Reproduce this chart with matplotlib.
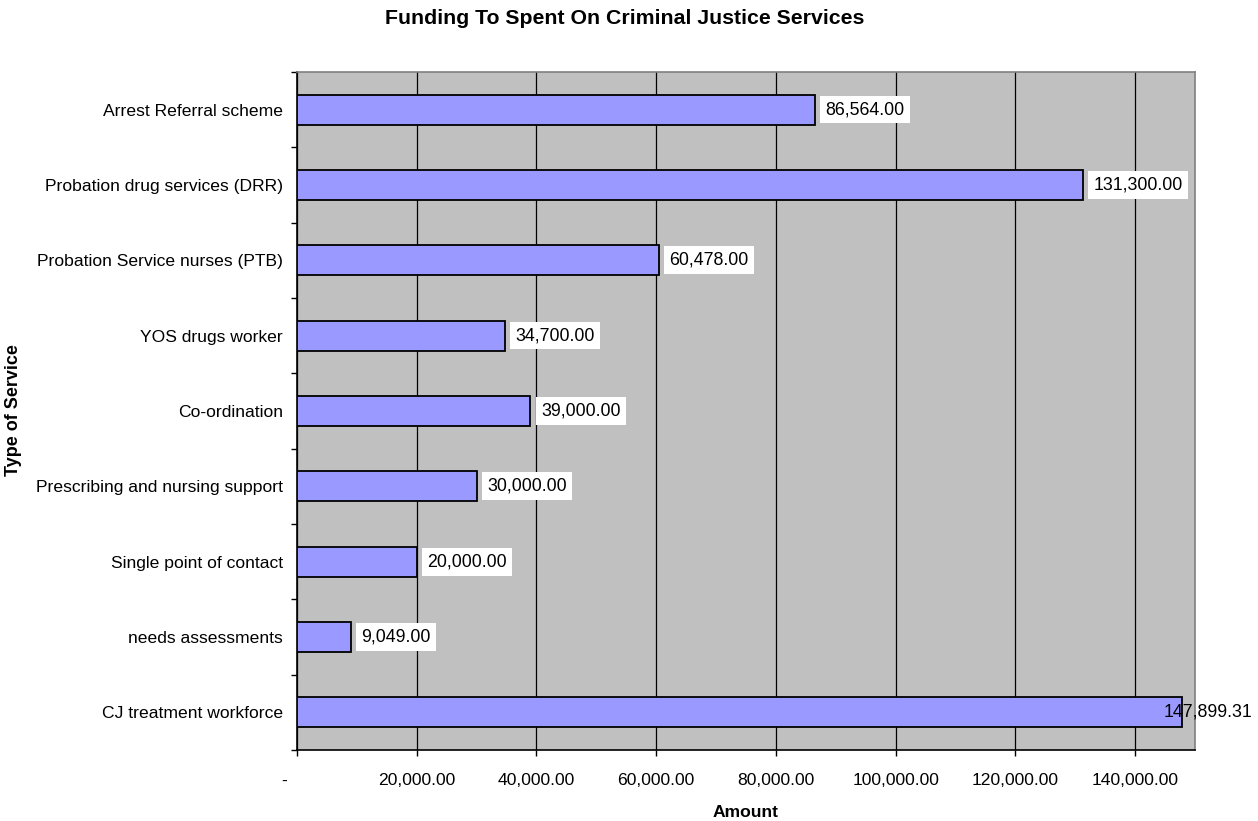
import matplotlib.pyplot as plt
import numpy as np

plt.rcParams['font.family'] = ['Liberation Sans', 'DejaVu Sans']

services = ['Arrest Referral scheme', 'Probation drug services (DRR)',
            'Probation Service nurses (PTB)', 'YOS drugs worker', 'Co-ordination',
            'Prescribing and nursing support', 'Single point of contact',
            'needs assessments', 'CJ treatment workforce']
amounts = [86564.00, 131300.00, 60478.00, 34700.00, 39000.00,
           30000.00, 20000.00, 9049.00, 147899.31]
xticks = [0, 20000, 40000, 60000, 80000, 100000, 120000, 140000]
xtick_labels = ['-     ', '20,000.00', '40,000.00', '60,000.00', '80,000.00',
                '100,000.00', '120,000.00', '140,000.00']

W, H = 1258, 821
fig = plt.figure(figsize=(W / 100, H / 100), dpi=100)
ax = fig.add_axes([297 / W, 1 - 750 / H, 898 / W, 678 / H])
ax.set_facecolor('#C0C0C0')

y = np.arange(len(services))[::-1]
ax.barh(y, amounts, height=0.4, color='#9999FF', edgecolor='black', linewidth=1.3, zorder=3)

ax.set_xlim(0, 150000)
ax.set_ylim(-0.5, len(services) - 0.5)

ax.set_xticks(xticks)
ax.set_xticklabels(xtick_labels, fontsize=12.6)
ax.set_yticks(y)
ax.set_yticklabels(services, fontsize=12.6)
ax.tick_params(axis='y', length=0, pad=10)
ax.set_yticks(np.arange(-0.5, len(services), 1), minor=True)
ax.tick_params(axis='y', which='minor', length=4.3, width=1, direction='out')
ax.tick_params(axis='x', length=4.3, width=1, direction='out', pad=12)

ax.grid(axis='x', color='black', linewidth=0.9, zorder=1)
ax.set_axisbelow(True)

for side in ['top', 'right']:
    ax.spines[side].set_color('#808080')
    ax.spines[side].set_linewidth(1.2)
for side in ['left', 'bottom']:
    ax.spines[side].set_color('black')
    ax.spines[side].set_linewidth(1.2)

# value labels, the one that runs past the plot is pulled back inside the figure
for yi, v in zip(y, amounts):
    txt = f'{v:,.2f}'
    if v > 140000:
        ax.annotate(txt, xy=(1.0, yi), xycoords=('figure fraction', 'data'),
                    xytext=(-4, 0), textcoords='offset points',
                    ha='right', va='center', fontsize=12.8, zorder=5,
                    annotation_clip=False)
    else:
        ax.annotate(txt, xy=(v, yi), xytext=(7.5, 0), textcoords='offset points',
                    ha='left', va='center', fontsize=12.8, zorder=5,
                    bbox=dict(boxstyle='square,pad=0.3', facecolor='white', edgecolor='none'))

fig.text(625 / W, 1 - 18 / H, 'Funding To Spent On Criminal Justice Services', fontsize=15.3,
         fontweight='bold', ha='center', va='center')
fig.text(746 / W, 1 - 812 / H, 'Amount', fontsize=12.6, fontweight='bold',
         ha='center', va='center')
fig.text(14 / W, 1 - 410 / H, 'Type of Service', rotation=90, fontsize=13,
         fontweight='bold', ha='center', va='center')

fig.savefig('out.png', dpi=100)
